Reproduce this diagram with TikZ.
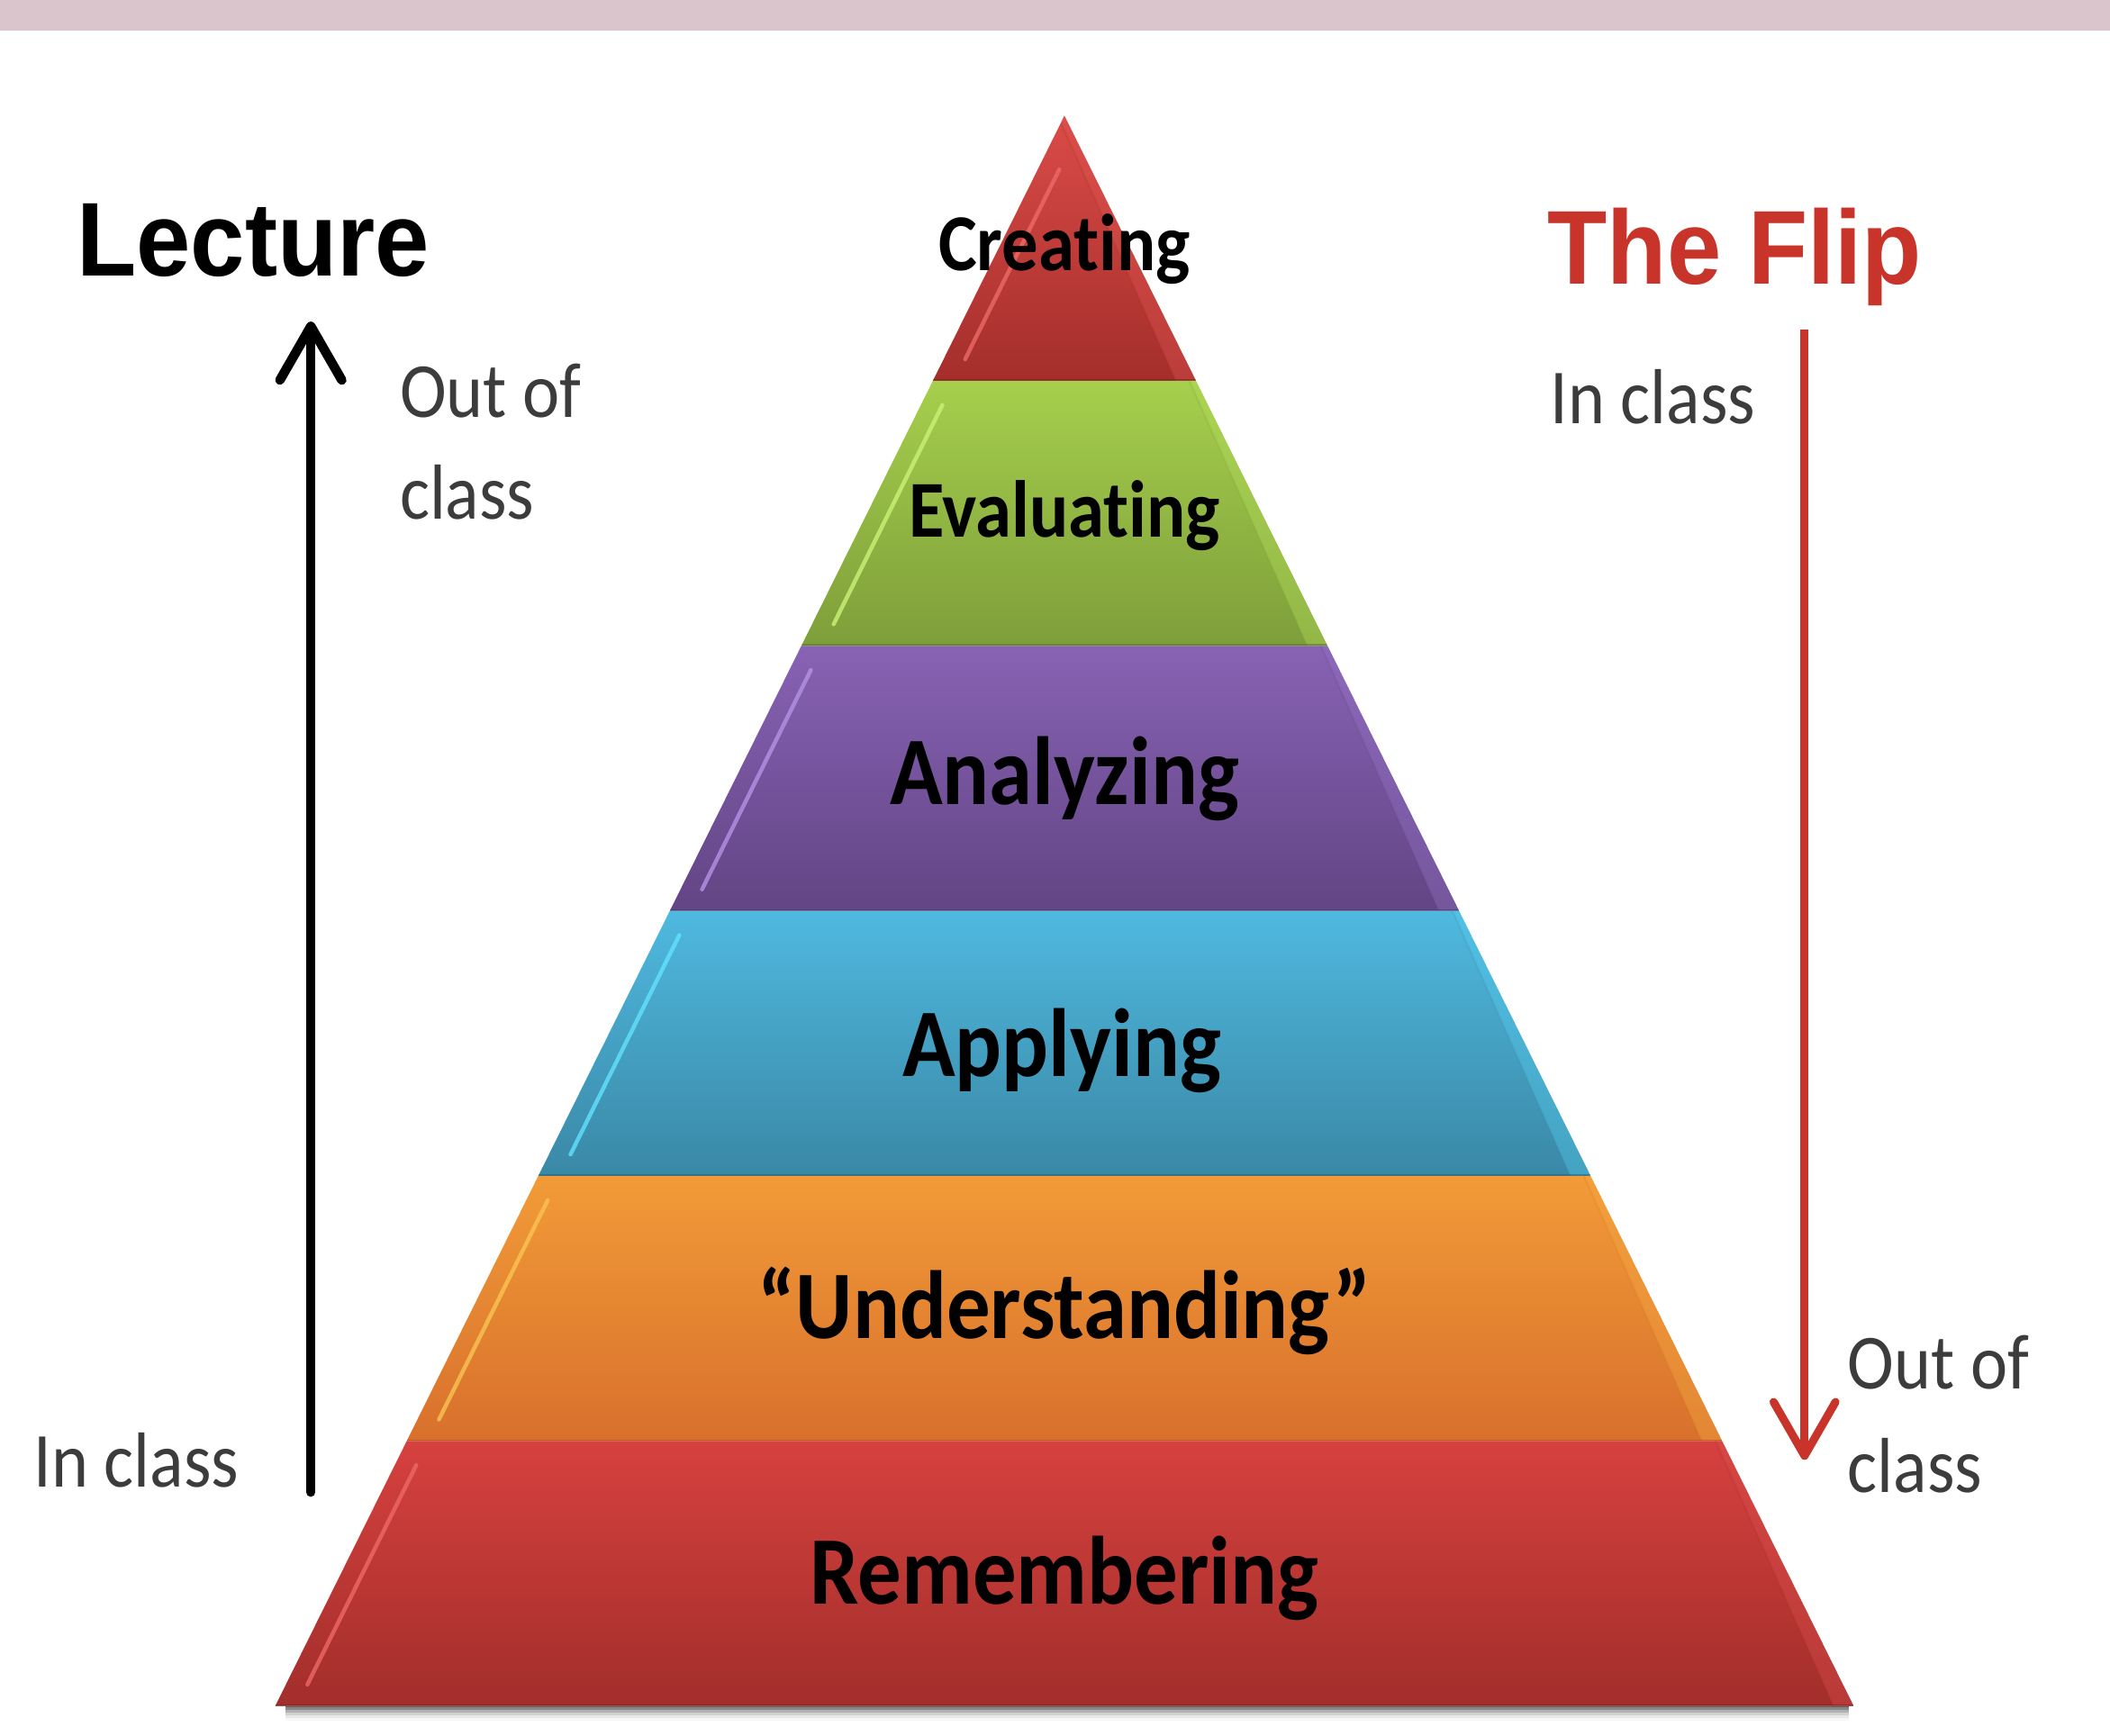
\documentclass[tikz,border=0pt]{standalone}
\usepackage{fontspec}
\usetikzlibrary{arrows.meta}
\newfontfamily\labfont[FakeStretch=0.9, Ligatures=NoCommon]{Carlito}
\newfontfamily\headfont[FakeStretch=0.93]{Liberation Sans}
\definecolor{band}{HTML}{DBC5CC}
\definecolor{flipred}{HTML}{C8332A}
\definecolor{sidegray}{HTML}{3C3C3C}
% layer colours: top, bottom, highlight, bevel
\definecolor{crT}{HTML}{DA4B47}\definecolor{crB}{HTML}{A42E2B}\definecolor{crH}{HTML}{EC6A68}\definecolor{crV}{HTML}{DE5450}
\definecolor{evT}{HTML}{A6CF4D}\definecolor{evB}{HTML}{7E9E3A}\definecolor{evH}{HTML}{CBF276}\definecolor{evV}{HTML}{B4DE5C}
\definecolor{anT}{HTML}{8862B4}\definecolor{anB}{HTML}{624584}\definecolor{anH}{HTML}{B692E6}\definecolor{anV}{HTML}{9472C4}
\definecolor{apT}{HTML}{4FB9DF}\definecolor{apB}{HTML}{3A88A6}\definecolor{apH}{HTML}{62E2FF}\definecolor{apV}{HTML}{56CCEE}
\definecolor{unT}{HTML}{F29B38}\definecolor{unB}{HTML}{D8702C}\definecolor{unH}{HTML}{F8C452}\definecolor{unV}{HTML}{F5A942}
\definecolor{reT}{HTML}{D6413E}\definecolor{reB}{HTML}{A22E2B}\definecolor{reH}{HTML}{EE6866}\definecolor{reV}{HTML}{DA4E4C}

% one band of the pyramid: #1 top y, #2 bottom y, #3 top colour,
% #4 bottom colour, #5 highlight colour, #6 bevel colour, #7 highlight start offset
\newcommand\pyrlayer[7]{%
  \pgfmathsetmacro\xtl{791-0.49619*(#1-86)}%
  \pgfmathsetmacro\xtr{791+0.49619*(#1-86)}%
  \pgfmathsetmacro\xbl{791-0.49619*(#2-86)}%
  \pgfmathsetmacro\xbr{791+0.49619*(#2-86)}%
  \pgfmathsetmacro\hya{#1+#7}%
  \pgfmathsetmacro\hyb{#2-16}%
  \pgfmathsetmacro\hxa{791-0.49619*(\hya-86)+16}%
  \pgfmathsetmacro\hxb{791-0.49619*(\hyb-86)+16}%
  \shade[top color=#3, bottom color=#4]
    (\xtl,#1) -- (\xtr,#1) -- (\xbr,#2) -- (\xbl,#2) -- cycle;
  \begin{scope}
    \clip (\xtl,#1) -- (\xtr,#1) -- (\xbr,#2) -- (\xbl,#2) -- cycle;
    \fill[#6, opacity=0.4] (\xtr,#1) -- (\xbr,#2) -- (\xbr-15,#2) -- (\xtr-5,#1) -- cycle;
    \draw[#4, opacity=0.2, line width=1.5] (\xbr-15,#2) -- (\xtr-5,#1);
    \draw[#5, line width=3, line cap=round, opacity=0.8] (\hxa,\hya) -- (\hxb,\hyb);
    \draw[#4!75!black, opacity=0.6, line width=2.5] (\xbl,#2) -- (\xbr,#2);
  \end{scope}%
}

\tikzset{
  bigstep/.style={font=\labfont\bfseries\fontsize{72}{72}\selectfont, text=black, inner sep=0, anchor=base},
  smallstep/.style={font=\labfont\bfseries\fontsize{60}{60}\selectfont, text=black, inner sep=0, anchor=base},
  sidelabel/.style={font=\labfont\fontsize{58}{58}\selectfont, text=sidegray, inner sep=0, anchor=base west},
  headlabel/.style={font=\headfont\bfseries\fontsize{78}{78}\selectfont, inner sep=0, anchor=base west},
}

\begin{document}
\begin{tikzpicture}[x=1pt, y=-1pt]
\useasboundingbox (0,0) rectangle (1568,1290);
\fill[white] (0,0) rectangle (1568,1290);
\fill[band] (0,0) rectangle (1568,23);

% soft shadow under the base
\foreach \d/\o in {1/0.30, 3/0.22, 5/0.15, 7/0.10, 9/0.06, 11/0.03}
  \fill[black, opacity=\o] (212,1268) rectangle (1374,1268+\d);

% pyramid bands, top to bottom
\pyrlayer{86}{283}{crT}{crB}{crH}{crV}{40}
\pyrlayer{283}{480}{evT}{evB}{evH}{evV}{18}
\pyrlayer{480}{677}{anT}{anB}{anH}{anV}{18}
\pyrlayer{677}{874}{apT}{apB}{apH}{apV}{18}
\pyrlayer{874}{1071}{unT}{unB}{unH}{unV}{18}
\pyrlayer{1071}{1268}{reT}{reB}{reH}{reV}{18}

% band labels
\node[smallstep] (creating) at (791,201) {Creating};
\node[smallstep] (evaluating) at (791,399) {Evaluating};
\node[bigstep] (analyzing) at (791,598) {Analyzing};
\node[bigstep] (applying) at (789,800) {Applying};
\node[bigstep] (understanding) at (791,995) {“Understanding”};
\node[bigstep] (remembering) at (791,1192) {Remembering};

% lecture side
\node[headlabel, text=black] (lecture) at (57,205) {Lecture};
\node[sidelabel] (lecOut) at (297,310) {Out of};
\node[sidelabel] (lecOutB) at (297,386) {class};
\node[sidelabel] (lecIn) at (25,1105) {In class};
\coordinate (lecFoot) at (231,1109);
\coordinate (lecTip) at (231,239);
\draw[line width=7, line cap=round, -{Straight Barb[length=40pt, width=46pt, round]}] (lecFoot) -- (lecTip);

% flipped side
\node[headlabel, text=flipred] (flip) at (1150,211) {The Flip};
\node[sidelabel] (flipIn) at (1152,315) {In class};
\node[sidelabel] (flipOut) at (1373,1032) {Out of};
\node[sidelabel] (flipOutB) at (1373,1109) {class};
\coordinate (flipTop) at (1341,245);
\coordinate (flipTip) at (1341,1085);
\draw[flipred, line width=6, -{Straight Barb[length=40pt, width=46pt, round]}] (flipTop) -- (flipTip);
\end{tikzpicture}
\end{document}
